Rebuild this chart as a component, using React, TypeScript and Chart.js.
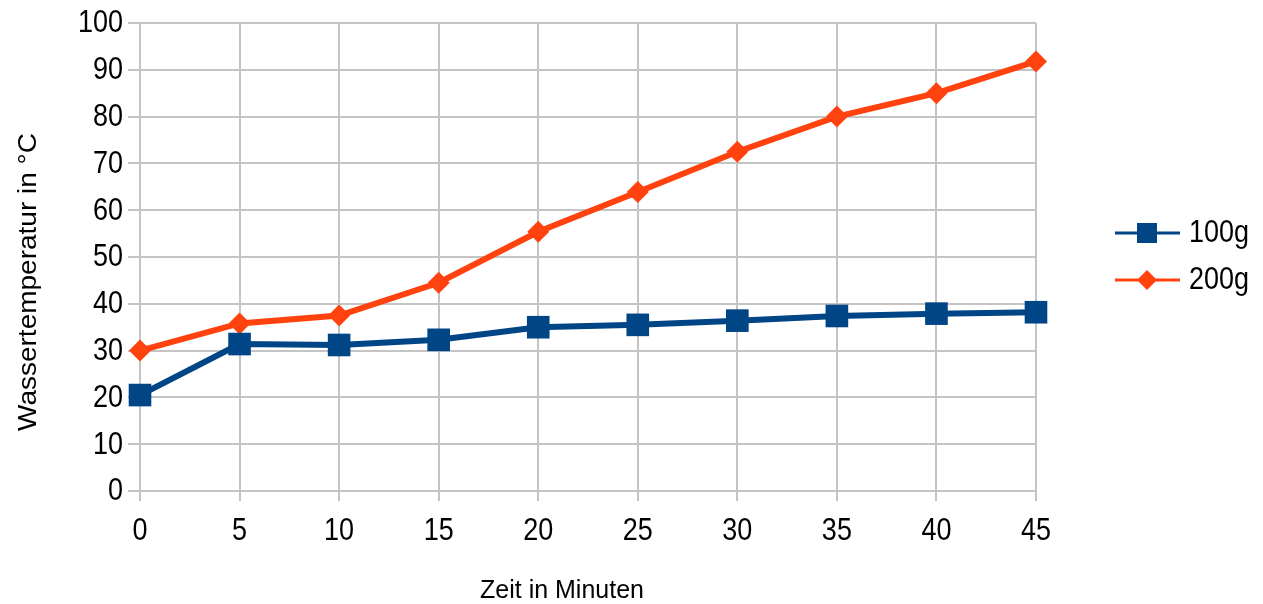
import React, { useEffect, useRef } from "react";
import { Chart, registerables } from "chart.js";

Chart.register(...registerables);

// Minutes since start
const minutes = ["0", "5", "10", "15", "20", "25", "30", "35", "40", "45"];
// Water temperature (°C) for the two masses
const temp100g = [20.5, 31.4, 31.2, 32.3, 35.0, 35.5, 36.4, 37.4, 37.9, 38.2];
const temp200g = [30.0, 35.8, 37.5, 44.5, 55.4, 63.9, 72.5, 80.0, 85.0, 91.8];
const seriesNames = ["100g", "200g"];
const xTitle = "Zeit in Minuten";
const yTitle = "Wassertemperatur in °C";

const BLUE = "#004586";
const ORANGE = "#ff420e";
const GRID = "#c4c4c4";
const FONT = "'Liberation Sans', Arial, sans-serif";
const STRETCH = 1.13; // tall, slightly condensed lettering

// Draws text centred on (x, y) with a vertical stretch
function tallText(
  ctx: CanvasRenderingContext2D,
  text: string,
  x: number,
  y: number,
  size: number,
  align: CanvasTextAlign,
  stretch = STRETCH
) {
  ctx.save();
  ctx.translate(x, y);
  ctx.scale(1, stretch);
  ctx.font = `${size}px ${FONT}`;
  ctx.textAlign = align;
  ctx.textBaseline = "middle";
  ctx.fillText(text, 0, 0);
  ctx.restore();
}

// Tick labels, axis titles and the line-with-marker legend
const decorations = {
  id: "decorations",
  afterDraw(chart: any) {
    const ctx = chart.ctx as CanvasRenderingContext2D;
    const xs = chart.scales.x;
    const ys = chart.scales.y;
    ctx.save();
    ctx.fillStyle = "#000";

    // tick labels
    xs.ticks.forEach((t: any, i: number) => {
      const px = xs.getPixelForTick(i);
      tallText(ctx, String(xs.getLabelForValue(t.value)), px, 532, 27, "center");
    });
    ys.ticks.forEach((t: any) => {
      const py = ys.getPixelForValue(t.value);
      tallText(ctx, String(t.value), 123, py + 1, 27, "right");
    });

    // x title
    tallText(ctx, xTitle, 562, 591, 25, "center", 1.05);

    // y title (stretched along its length)
    ctx.save();
    ctx.translate(29, 282);
    ctx.rotate(-Math.PI / 2);
    ctx.scale(1.12, 1);
    ctx.font = `25px ${FONT}`;
    ctx.textAlign = "center";
    ctx.textBaseline = "middle";
    ctx.fillText(yTitle, 0, 0);
    ctx.restore();

    // legend
    const entries = [
      { name: seriesNames[0], color: BLUE, shape: "square", y: 233 },
      { name: seriesNames[1], color: ORANGE, shape: "diamond", y: 280 },
    ];
    entries.forEach((e) => {
      ctx.strokeStyle = e.color;
      ctx.fillStyle = e.color;
      ctx.lineWidth = 3;
      ctx.beginPath();
      ctx.moveTo(1115, e.y);
      ctx.lineTo(1180, e.y);
      ctx.stroke();
      const cx = 1147;
      ctx.beginPath();
      if (e.shape === "square") {
        ctx.rect(cx - 10, e.y - 10, 20, 20);
      } else {
        ctx.moveTo(cx - 10, e.y);
        ctx.lineTo(cx, e.y - 10);
        ctx.lineTo(cx + 10, e.y);
        ctx.lineTo(cx, e.y + 10);
        ctx.closePath();
      }
      ctx.fill();
      ctx.fillStyle = "#000";
      tallText(ctx, e.name, 1189, e.y + 1, 27, "left");
    });
    ctx.restore();
  },
};

export default function App() {
  const canvasRef = useRef<HTMLCanvasElement | null>(null);

  useEffect(() => {
    document.body.style.margin = "0";
    const canvas = canvasRef.current;
    if (!canvas) return;
    const chart = new Chart(canvas, {
      type: "line",
      data: {
        labels: minutes,
        datasets: [
          {
            label: seriesNames[0],
            data: temp100g,
            borderColor: BLUE,
            backgroundColor: BLUE,
            borderWidth: 6,
            pointStyle: "rect",
            pointRadius: 16,
            pointBorderWidth: 0,
            tension: 0,
          },
          {
            label: seriesNames[1],
            data: temp200g,
            borderColor: ORANGE,
            backgroundColor: ORANGE,
            borderWidth: 6,
            pointStyle: "rectRot",
            pointRadius: 11,
            pointBorderWidth: 0,
            tension: 0,
          },
        ],
      },
      options: {
        animation: false,
        responsive: false,
        maintainAspectRatio: false,
        layout: { padding: { top: 23, right: 227, left: 0, bottom: 0 } },
        plugins: {
          legend: { display: false },
          tooltip: { enabled: false },
        },
        scales: {
          x: {
            type: "category",
            offset: false,
            grid: { color: GRID, lineWidth: 2, tickLength: 10, drawTicks: true },
            border: { color: GRID, width: 2 },
            ticks: {
              color: "rgba(0,0,0,0)",
              font: { family: FONT, size: 27 },
              padding: 8,
              maxRotation: 0,
            },
            afterFit: (s: any) => {
              s.height = 113;
            },
          },
          y: {
            min: 0,
            max: 100,
            grid: { color: GRID, lineWidth: 2, tickLength: 12 },
            border: { color: GRID, width: 2 },
            ticks: {
              stepSize: 10,
              color: "rgba(0,0,0,0)",
              font: { family: FONT, size: 27 },
              padding: 6,
            },
            afterFit: (s: any) => {
              s.width = 140;
            },
          },
        },
      },
      plugins: [decorations],
    });
    return () => chart.destroy();
  }, []);

  return (
    <div style={{ width: 1263, height: 604, background: "#fff" }}>
      <canvas ref={canvasRef} width={1263} height={604} style={{ display: "block" }} />
    </div>
  );
}
